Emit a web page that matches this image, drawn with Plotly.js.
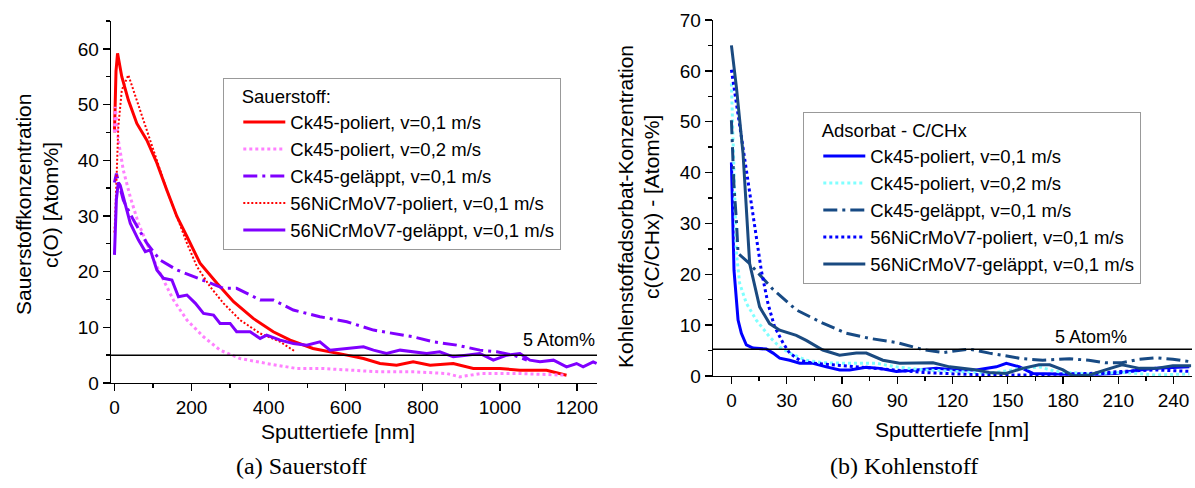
<!DOCTYPE html>
<html>
<head>
<meta charset="utf-8">
<script src="https://cdn.plot.ly/plotly-3.0.1.min.js"></script>
<style>html,body{margin:0;padding:0;background:#fff;}#chart{width:1195px;height:488px;}</style>
</head>
<body>
<div id="chart"></div>
<script>
// ---------- (a) Sauerstoff ----------
const oNames = ["Ck45-poliert, v=0,1 m/s","Ck45-poliert, v=0,2 m/s","Ck45-geläppt, v=0,1 m/s","56NiCrMoV7-poliert, v=0,1 m/s","56NiCrMoV7-geläppt, v=0,1 m/s"];
const o1x = [0,4,8,12,19,36,58,84,110,136,162,188,222,266,309,360,412,456,515,603,646,689,732,775,819,879,931,1000,1052,1121,1173];
const o1y = [45,56,59.2,57.5,55,50.8,46.6,43.6,39.5,34.6,29.9,26.3,21.5,17.9,14.6,11.6,9.2,7.7,6.2,5.0,4.4,3.5,3.2,3.8,3.2,3.5,2.6,2.6,2.3,2.3,1.4];
const o2x = [0,2,10,23,41,62,84,106,127,153,188,231,274,326,395,473,540,603,689,780,862,896,950,1050,1173];
const o2y = [45,49.6,43.6,38.2,33.4,28.7,25.1,21.5,18.5,14.9,11.3,8.3,5.9,4.4,3.5,2.6,2.6,2.3,2.0,2.0,1.7,1.1,1.7,1.7,1.4];
const o3x = [0,5,23,49,84,118,162,205,239,283,317,378,412,464,533,603,672,723,775,827,888,948,992,1035,1070];
const o3y = [36,37.6,32.8,29.3,25.1,22.1,20.3,19.1,18.2,17.0,17.0,14.9,14.9,13.1,11.9,11.0,9.5,8.9,8.3,7.4,6.8,5.9,5.6,5.0,4.1];
const o4x = [0,2,10,19,36,58,84,110,136,162,188,214,248,283,326,378,430,470];
const o4y = [27,29.9,46,52.6,55.3,50.8,45.4,40.1,34.6,29.9,25.1,20.9,17.3,14.3,11.3,8.9,7.4,5.6];
const o5x = [0,5,10,15,23,41,62,80,93,110,127,149,166,188,210,231,257,274,300,317,352,378,395,430,464,499,533,559,603,646,672,706,741,775,810,844,879,913,948,983,1018,1052,1078,1104,1139,1173,1199,1216,1242,1251];
const o5y = [23,33,36,35.5,33.4,28.7,25.7,23.6,23.9,20.3,18.8,18.5,15.5,15.8,14.3,12.5,12.2,10.7,10.7,9.2,9.2,8.0,8.6,7.7,7.1,6.8,7.4,5.9,6.2,6.5,5.9,5.3,5.9,5.6,5.3,5.6,4.7,5.0,5.3,4.1,5.0,5.3,4.1,3.8,4.1,2.9,3.5,2.9,3.8,3.5];

// ---------- (b) Kohlenstoff ----------
const cNames = oNames;
const c1x = [0,1.4,3.6,5.4,8.1,11.7,18.9,22.6,26.2,31.6,37.1,44.3,51.5,58.8,64.2,73.2,80.5,89.5,100.4,111.2,122,132.9,143.8,149.2,156.4,163.6,176.3,194.4,208.8,221.5,230.5,248.6];
const c1y = [42,20.8,11.0,8.4,6.1,5.5,5.3,4.5,3.5,3.1,2.5,2.5,1.8,1.2,1.2,1.7,1.5,0.9,1.2,1.5,1.2,1.2,1.8,2.5,1.8,0.5,0.4,0.3,0.5,1.2,1.5,1.8];
const c2x = [0,1.8,2.7,4.5,8.1,13.5,20.7,26.2,31.6,40.6,49.6,64.2,78.6,89.5,104,122,140,158,167,176,194,212,230.5,248.6];
const c2y = [57.5,37.2,24.1,18.2,14.3,11.0,7.7,5.7,4.5,3.1,2.6,2.5,2.5,1.8,1.2,0.9,0.5,1.5,1.8,0.9,0.4,0.7,0.2,0.4];
const c3x = [0,0.5,1.4,2.7,3.6,9.9,22.6,35.2,49.6,62.3,74.9,89.5,104,114.8,129,140,158,169,183.5,194,203,212,221.5,230.5,239.6,249.5];
const c3y = [50.3,43.8,37.2,30.6,24.1,22.1,17.0,13.0,10.4,8.4,7.4,6.6,5.2,4.6,5.3,4.5,3.4,3.1,3.4,3.1,2.6,2.6,3.3,3.6,3.3,2.8];
const c4x = [0,2.7,5.4,8.1,10.8,13.5,16.2,19.8,23.4,28,31.6,37,44.3,55,67.8,86,104,122,140,158,176,194,212,230.5,248.6];
const c4y = [60.2,53.6,47.1,40.5,34,27.4,20.8,14.3,9.7,6.5,4.5,3.1,2.5,2.2,1.8,1.2,0.7,0.4,0.2,0.2,0.3,0.5,0.9,1.2,0.9];
const c5x = [0,2.7,6.3,9.9,15.3,20.7,26.2,35.2,40.6,49.6,58.7,67.8,73.2,82.2,91.3,104,109.4,118.4,131,140,149,158,167,172.8,180,185.5,194.4,203,212,221.5,230.5,239.6,249.5];
const c5y = [65,56.8,43.8,22.1,13.6,10.3,9.0,8.0,7.0,5.1,4.1,4.5,4.5,3.1,2.5,2.5,2.6,1.8,1.3,0.7,0.5,1.5,2.2,2.2,1.2,0.0,0.2,1.2,2.2,1.5,1.5,2.0,2.0];

const oRef = 5, cRef = 5.25;
const oTicks = [0,200,400,600,800,1000,1200];
const cTicks = [0,30,60,90,120,150,180,210,240];

const W = 1195, H = 488;
const PX = v => v / W, PY = v => 1 - v / H;
const FONT = "Liberation Sans, Arial, sans-serif";
const SERIF = "Liberation Serif, DejaVu Serif, serif";
const IND = '\u00a0\u00a0\u00a0';

function tr(x, y, name, color, width, dash, xa, ya, leg) {
  return {x: x, y: y, name: name, type: 'scatter', mode: 'lines',
          line: {color: color, width: width, dash: dash},
          xaxis: xa, yaxis: ya, legend: leg, hoverinfo: 'skip'};
}

const data = [
  tr(o1x, o1y, oNames[0], '#ff0000', 3, 'solid', 'x', 'y', 'legend'),
  tr(o2x, o2y, oNames[1], '#ff80ff', 3, '3px,3px', 'x', 'y', 'legend'),
  tr(o3x, o3y, oNames[2], '#8000ff', 3, '14px,5px,3px,5px', 'x', 'y', 'legend'),
  tr(o4x, o4y, oNames[3], '#ff0000', 2, '2px,2px', 'x', 'y', 'legend'),
  tr(o5x, o5y, oNames[4], '#8000ff', 3, 'solid', 'x', 'y', 'legend'),
  tr(c1x, c1y, cNames[0], '#0000ff', 3, 'solid', 'x2', 'y2', 'legend2'),
  tr(c2x, c2y, cNames[1], '#80ffff', 3, '3px,3px', 'x2', 'y2', 'legend2'),
  tr(c3x, c3y, cNames[2], '#174a84', 3, '14px,5px,3px,5px', 'x2', 'y2', 'legend2'),
  tr(c4x, c4y, cNames[3], '#0000ff', 3, '3px,3px', 'x2', 'y2', 'legend2'),
  tr(c5x, c5y, cNames[4], '#1a4a80', 3, 'solid', 'x2', 'y2', 'legend2')
];

const axBase = {showgrid: false, zeroline: false, showline: true, linecolor: '#000', linewidth: 1.3,
  ticks: 'outside', ticklen: 7, tickwidth: 1.3, tickcolor: '#000',
  tickfont: {family: FONT, size: 19, color: '#000'}, fixedrange: true,
  minor: {ticks: 'outside', ticklen: 4, tickwidth: 1.3, tickcolor: '#000', showgrid: false}};

const LEGFONT = 18.5;
const layout = {
  width: W, height: H, margin: {l: 0, r: 0, t: 0, b: 0},
  paper_bgcolor: '#fff', plot_bgcolor: 'rgba(0,0,0,0)',
  font: {family: FONT, color: '#000'},
  showlegend: true,
  xaxis: Object.assign({}, axBase, {domain: [PX(111), PX(597)], range: [-9, 1252], tickvals: oTicks, ticktext: oTicks.map(String), minor: Object.assign({}, axBase.minor, {dtick: 100, tick0: 0}), anchor: 'y'}),
  yaxis: Object.assign({}, axBase, {domain: [PY(383), PY(21)], range: [0, 65], dtick: 10, tick0: 0, minor: Object.assign({}, axBase.minor, {dtick: 5, tick0: 0}), anchor: 'x'}),
  xaxis2: Object.assign({}, axBase, {domain: [PX(713), PX(1192)], range: [-10, 250], tickvals: cTicks, ticktext: cTicks.map(String), minor: Object.assign({}, axBase.minor, {dtick: 15, tick0: 0}), anchor: 'y2'}),
  yaxis2: Object.assign({}, axBase, {domain: [PY(376), PY(20)], range: [0, 70], dtick: 10, tick0: 0, minor: Object.assign({}, axBase.minor, {dtick: 5, tick0: 0}), anchor: 'x2'}),
  legend: {x: PX(223), y: PY(78), xanchor: 'left', yanchor: 'top', bgcolor: '#fff', bordercolor: '#999', borderwidth: 1.3,
           font: {family: FONT, size: LEGFONT, color: '#000'}, title: {text: IND + 'Sauerstoff:', font: {family: FONT, size: LEGFONT}},
           itemwidth: 42, tracegroupgap: 0, indentation: 14},
  legend2: {x: PX(803), y: PY(112), xanchor: 'left', yanchor: 'top', bgcolor: '#fff', bordercolor: '#999', borderwidth: 1.3,
           font: {family: FONT, size: LEGFONT, color: '#000'}, title: {text: IND + 'Adsorbat - C/CHx', font: {family: FONT, size: LEGFONT}},
           itemwidth: 42, tracegroupgap: 0, indentation: 14},
  shapes: [
    {type: 'line', xref: 'x domain', yref: 'y', x0: 0, x1: 1, y0: oRef, y1: oRef, line: {color: '#000', width: 1.5}},
    {type: 'line', xref: 'x2 domain', yref: 'y2', x0: 0, x1: 1, y0: cRef, y1: cRef, line: {color: '#000', width: 1.5}}
  ],
  annotations: [
    {text: '5 Atom%', xref: 'paper', yref: 'paper', x: PX(597), y: PY(340), xanchor: 'right', yanchor: 'middle', showarrow: false, font: {family: FONT, size: 18}},
    {text: '5 Atom%', xref: 'paper', yref: 'paper', x: PX(1091), y: PY(337), xanchor: 'center', yanchor: 'middle', showarrow: false, font: {family: FONT, size: 18}},
    {text: 'Sauerstoffkonzentration', xref: 'paper', yref: 'paper', x: PX(23), y: PY(205), textangle: -90, showarrow: false, xanchor: 'center', yanchor: 'middle', font: {family: FONT, size: 21}},
    {text: 'c(O) [Atom%]', xref: 'paper', yref: 'paper', x: PX(50), y: PY(205), textangle: -90, showarrow: false, xanchor: 'center', yanchor: 'middle', font: {family: FONT, size: 21}},
    {text: 'Kohlenstoffadsorbat-Konzentration', xref: 'paper', yref: 'paper', x: PX(625), y: PY(207), textangle: -90, showarrow: false, xanchor: 'center', yanchor: 'middle', font: {family: FONT, size: 21}},
    {text: 'c(C/CHx) - [Atom%]', xref: 'paper', yref: 'paper', x: PX(651), y: PY(207), textangle: -90, showarrow: false, xanchor: 'center', yanchor: 'middle', font: {family: FONT, size: 21}},
    {text: 'Sputtertiefe [nm]', xref: 'paper', yref: 'paper', x: PX(338), y: PY(431), showarrow: false, xanchor: 'center', yanchor: 'middle', font: {family: FONT, size: 21}},
    {text: 'Sputtertiefe [nm]', xref: 'paper', yref: 'paper', x: PX(952), y: PY(429), showarrow: false, xanchor: 'center', yanchor: 'middle', font: {family: FONT, size: 21}},
    {text: '(a) Sauerstoff', xref: 'paper', yref: 'paper', x: PX(301), y: PY(466), showarrow: false, xanchor: 'center', yanchor: 'middle', font: {family: SERIF, size: 24}},
    {text: '(b) Kohlenstoff', xref: 'paper', yref: 'paper', x: PX(904), y: PY(466), showarrow: false, xanchor: 'center', yanchor: 'middle', font: {family: SERIF, size: 24}}
  ]
};

Plotly.newPlot('chart', data, layout, {staticPlot: true, displayModeBar: false});
</script>
</body>
</html>
